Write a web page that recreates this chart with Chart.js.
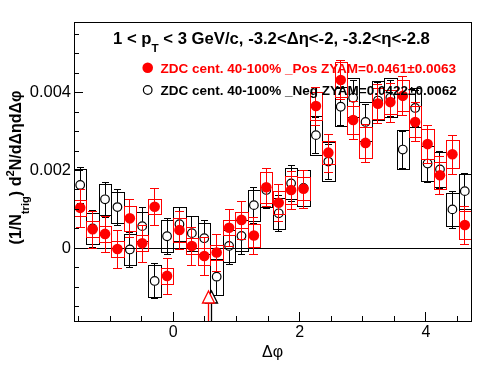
<!DOCTYPE html>
<html><head><meta charset="utf-8">
<script src="https://cdn.jsdelivr.net/npm/chart.js@4"></script>
<style>html,body{margin:0;padding:0;background:#fff;}canvas{display:block;}</style>
</head><body>
<canvas id="c" width="496" height="374"></canvas>
<script>
// ---- data ----
const binCenters = [-1.4726,-1.2763,-1.0799,-0.8836,-0.6872,-0.4909,-0.2945,-0.0982,
  0.0982,0.2945,0.4909,0.6872,0.8836,1.0799,1.2763,1.4726,
  1.6690,1.8653,2.0617,2.2580,2.4544,2.6507,2.8471,3.0434,
  3.2398,3.4361,3.6325,3.8288,4.0252,4.2215,4.4179,4.6142];
const posVals = [0.00104,0.00049,0.00037,-0.00002,0.00077,0.00013,0.00107,-0.00071,
  0.00047,0.00006,-0.00020,-0.00011,0.00053,0.00073,0.00033,0.00157,
  0.00117,0.00150,0.00153,0.00366,0.00246,0.00433,0.00330,0.00271,
  0.00372,0.00376,0.00392,0.00325,0.00268,0.00188,0.00242,0.00060];
const posStat = [0.00048,0.00048,0.00047,0.00048,0.00049,0.00047,0.00048,0.00047,
  0.00050,0.00048,0.00049,0.00047,0.00048,0.00048,0.00047,0.00049,
  0.00048,0.00049,0.00049,0.00050,0.00049,0.00050,0.00050,0.00049,
  0.00050,0.00050,0.00050,0.00050,0.00049,0.00049,0.00050,0.00050];
const posSys = [0.00021,0.00020,0.00020,0.00020,0.00032,0.00020,0.00020,0.00020,
  0.00030,0.00020,0.00022,0.00020,0.00020,0.00020,0.00030,0.00040,
  0.00030,0.00035,0.00030,0.00036,0.00030,0.00045,0.00036,0.00040,
  0.00040,0.00030,0.00040,0.00040,0.00038,0.00035,0.00036,0.00036];
const negVals = [0.00163,0.00051,0.00126,0.00106,-0.00003,0.00057,-0.00084,0.00031,
  0.00062,0.00039,0.00026,-0.00073,0.00006,0.00032,0.00111,0.00150,
  0.00090,0.00167,0.00155,0.00291,0.00223,0.00364,0.00387,0.00325,
  0.00380,0.00387,0.00254,0.00361,0.00218,0.00203,0.00100,0.00147];
const negStat = [0.00046,0.00048,0.00045,0.00047,0.00044,0.00049,0.00045,0.00046,
  0.00045,0.00045,0.00046,0.00046,0.00046,0.00046,0.00046,0.00046,
  0.00046,0.00046,0.00046,0.00047,0.00046,0.00047,0.00047,0.00047,
  0.00047,0.00047,0.00047,0.00047,0.00047,0.00047,0.00047,0.00047];
const negSys = [0.00040,0.00040,0.00040,0.00040,0.00040,0.00037,0.00041,0.00041,
  0.00043,0.00045,0.00040,0.00046,0.00040,0.00040,0.00040,0.00045,
  0.00040,0.00040,0.00047,0.00050,0.00050,0.00050,0.00050,0.00050,
  0.00050,0.00050,0.00050,0.00050,0.00045,0.00045,0.00043,0.00045];
const zyamPosX = 0.55;
const zyamNegX = 0.61;
const xTickVals = [-1.5,-1,-0.5,0,0.5,1,1.5,2,2.5,3,3.5,4,4.5];
const xMajor = [0,2,4];
const yTickVals = [-0.0015,-0.001,-0.0005,0,0.0005,0.001,0.0015,0.002,0.0025,0.003,0.0035,0.004,0.0045,0.005,0.0055];
const yMajor = [0,0.002,0.004];
const titleParts = [{t:'1 < p'},{t:'T',sub:true},{t:' < 3 GeV/c, -3.2<\u0394\u03b7<-2, -3.2<\u03b7<-2.8'}];
const yTitleParts = [{t:'(1/N'},{t:'trig',sub:true},{t:') d'},{t:'2',sup:true},{t:'N/d\u0394\u03b7d\u0394\u03c6'}];
const xTitle = '\u0394\u03c6';
const posLabel = 'ZDC cent. 40-100% _Pos ZYAM=0.0461\u00b10.0063';
const negLabel = 'ZDC cent. 40-100% _Neg ZYAM=0.0422\u00b10.0062';

// ---- styling ----
const FONT = '"Liberation Sans", Arial, Helvetica, sans-serif';
const RED = '#ff0000';
const BLACK = '#000000';
const BIN_HALF = Math.PI / 32;

function isIn(v, arr){ return arr.some(m => Math.abs(m - v) < 1e-9); }
function crisp(v){ return Math.floor(v) + 0.5; }

function drawRich(ctx, parts, x, y, size, bold, align){
  const w = bold ? 'bold ' : '';
  const widths = parts.map(p => {
    const s = (p.sub || p.sup) ? size*0.7 : size;
    ctx.font = w + s + 'px ' + FONT;
    return ctx.measureText(p.t).width;
  });
  const total = widths.reduce((a,b)=>a+b,0);
  let cx = align === 'center' ? x - total/2 : x;
  ctx.textAlign = 'left'; ctx.textBaseline = 'alphabetic';
  parts.forEach((p,i) => {
    const s = (p.sub || p.sup) ? size*0.7 : size;
    ctx.font = w + s + 'px ' + FONT;
    let dy = 0;
    if (p.sub) dy = size*0.5;
    if (p.sup) dy = -size*0.45;
    ctx.fillText(p.t, cx, y + dy);
    cx += widths[i];
  });
}

function drawSeries(chart, vals, stat, sys, color, markerR, capHalf, gapped){
  const {ctx, chartArea:a, scales:{x, y}} = chart;
  ctx.save();
  ctx.beginPath(); ctx.rect(a.left, a.top, a.right-a.left, a.bottom-a.top); ctx.clip();
  ctx.strokeStyle = color; ctx.lineWidth = 1;
  for (let i = 0; i < vals.length; i++){
    const xl = Math.round(x.getPixelForValue(binCenters[i]-BIN_HALF)) + 0.5;
    const xr = Math.round(x.getPixelForValue(binCenters[i]+BIN_HALF)) + 0.5;
    const yt = Math.round(y.getPixelForValue(vals[i]+sys[i])) + 0.5;
    const yb = Math.round(y.getPixelForValue(vals[i]-sys[i])) + 0.5;
    ctx.strokeRect(xl, yt, xr-xl, yb-yt);
  }
  for (let i = 0; i < vals.length; i++){
    const px = crisp(x.getPixelForValue(binCenters[i]));
    const py = y.getPixelForValue(vals[i]);
    const et = Math.round(y.getPixelForValue(vals[i]+stat[i])) + 0.5;
    const eb = Math.round(y.getPixelForValue(vals[i]-stat[i])) + 0.5;
    ctx.beginPath();
    if (gapped){
      ctx.moveTo(px, et); ctx.lineTo(px, py - markerR);
      ctx.moveTo(px, py + markerR); ctx.lineTo(px, eb);
    } else {
      ctx.moveTo(px, et); ctx.lineTo(px, eb);
    }
    ctx.moveTo(px - capHalf, et); ctx.lineTo(px + capHalf, et);
    ctx.moveTo(px - capHalf, eb); ctx.lineTo(px + capHalf, eb);
    ctx.stroke();
  }
  ctx.restore();
}

function drawArrow(chart, xv, color){
  const {ctx, chartArea:a, scales:{x}} = chart;
  const px = crisp(x.getPixelForValue(xv));
  const base = a.bottom - 18, apex = a.bottom - 30;
  ctx.save();
  ctx.strokeStyle = color; ctx.lineWidth = 1.3;
  ctx.beginPath(); ctx.moveTo(px, a.bottom); ctx.lineTo(px, base); ctx.stroke();
  ctx.beginPath(); ctx.moveTo(px, apex); ctx.lineTo(px - 6, base); ctx.lineTo(px + 6, base); ctx.closePath();
  ctx.fillStyle = '#fff'; ctx.fill(); ctx.stroke();
  ctx.restore();
}

const rootPlugin = {
  id: 'rootStyle',
  beforeDatasetsDraw(chart){
    const {ctx, chartArea:a, scales:{y}} = chart;
    const y0 = crisp(y.getPixelForValue(0));
    ctx.save(); ctx.strokeStyle = BLACK; ctx.lineWidth = 1;
    ctx.beginPath(); ctx.moveTo(a.left, y0); ctx.lineTo(a.right, y0); ctx.stroke();
    ctx.restore();
  },
  beforeDatasetDraw(chart, args){
    if (args.index === 1) drawSeries(chart, negVals, negStat, negSys, BLACK, 4.5, 3.5, true);
    if (args.index === 0) drawSeries(chart, posVals, posStat, posSys, RED, 5, 4.5, false);
  },
  afterDatasetsDraw(chart){
    const {ctx, chartArea:a, scales:{x, y}} = chart;
    drawArrow(chart, zyamNegX, BLACK);
    drawArrow(chart, zyamPosX, RED);
    // frame
    ctx.save();
    ctx.strokeStyle = BLACK; ctx.lineWidth = 1;
    ctx.strokeRect(crisp(a.left), crisp(a.top), Math.round(a.right - a.left), Math.round(a.bottom - a.top));
    // ticks
    ctx.beginPath();
    x.ticks.forEach(t => {
      const px = crisp(x.getPixelForValue(t.value));
      const len = isIn(t.value, xMajor) ? 9 : 5;
      ctx.moveTo(px, a.bottom); ctx.lineTo(px, a.bottom - len);
    });
    y.ticks.forEach(t => {
      const py = crisp(y.getPixelForValue(t.value));
      const len = isIn(t.value, yMajor) ? 9 : 5;
      ctx.moveTo(a.left, py); ctx.lineTo(a.left + len, py);
    });
    ctx.stroke();
    ctx.restore();
  },
  afterDraw(chart){
    const {ctx} = chart;
    ctx.save();
    ctx.fillStyle = BLACK;
    drawRich(ctx, titleParts, 113, 43.5, 16.7, true, 'left');
    // y title
    ctx.save();
    ctx.translate(21, 167.5); ctx.rotate(-Math.PI/2);
    drawRich(ctx, yTitleParts, 0, 0, 16, true, 'center');
    ctx.restore();
    // legend
    ctx.fillStyle = RED;
    ctx.beginPath(); ctx.arc(147.7, 67.7, 5.3, 0, Math.PI*2); ctx.fill();
    ctx.font = 'bold 13.5px ' + FONT; ctx.textAlign = 'left'; ctx.textBaseline = 'alphabetic';
    ctx.fillText(posLabel, 160.5, 72.7);
    ctx.strokeStyle = BLACK; ctx.lineWidth = 1.2;
    ctx.beginPath(); ctx.arc(147.7, 90, 4.3, 0, Math.PI*2); ctx.stroke();
    ctx.fillStyle = BLACK;
    ctx.fillText(negLabel, 160.5, 95);
    ctx.restore();
  }
};

new Chart(document.getElementById('c'), {
  type: 'scatter',
  data: { datasets: [
    { label: posLabel, data: binCenters.map((v,i)=>({x:v, y:posVals[i]})),
      pointStyle:'circle', pointRadius:5.3, pointBackgroundColor:RED, pointBorderColor:RED, pointBorderWidth:0, showLine:false },
    { label: negLabel, data: binCenters.map((v,i)=>({x:v, y:negVals[i]})),
      pointStyle:'circle', pointRadius:4.3, pointBackgroundColor:'rgba(0,0,0,0)', pointBorderColor:BLACK, pointBorderWidth:1.2, showLine:false }
  ]},
  options: {
    responsive:false, animation:false, devicePixelRatio:1,
    layout:{padding:{top:22, right:25, left:0, bottom:0}},
    plugins:{legend:{display:false}, tooltip:{enabled:false}, title:{display:false}},
    scales:{
      x:{ type:'linear', min:-Math.PI/2, max:3*Math.PI/2,
        afterBuildTicks(s){ s.ticks = xTickVals.map(v=>({value:v})); },
        afterFit(s){ s.height = 53; },
        grid:{display:false, drawTicks:false}, border:{display:false},
        ticks:{autoSkip:false, maxRotation:0, padding:2, color:BLACK, font:{family:FONT, size:16},
          callback:(v)=> isIn(v, xMajor) ? String(Math.round(v)) : ''},
        title:{display:true, text:xTitle, color:BLACK, font:{family:FONT, size:16}, padding:{top:0, bottom:12}}
      },
      y:{ type:'linear', min:-0.00187, max:0.00582,
        afterBuildTicks(s){ s.ticks = yTickVals.map(v=>({value:v})); },
        afterFit(s){ s.width = 74; },
        grid:{display:false, drawTicks:false}, border:{display:false},
        ticks:{autoSkip:false, padding:3, color:BLACK, font:{family:FONT, size:16.5},
          callback:(v)=> isIn(v, yMajor) ? (Math.abs(v) < 1e-12 ? '0' : v.toFixed(3)) : ''}
      }
    }
  },
  plugins:[rootPlugin]
});
</script>
</body></html>
